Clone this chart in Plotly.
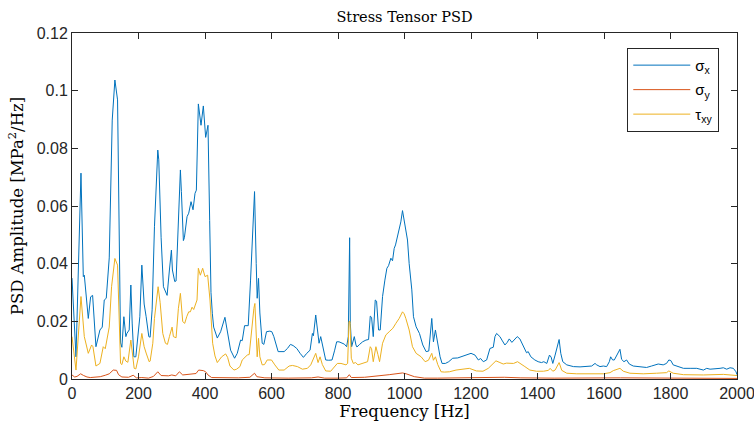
import plotly.graph_objects as go

# ---------------- data ----------------
sx_f = [0, 12, 27, 34, 37, 49, 56, 62, 72, 84, 91, 97, 103, 112, 121, 129, 137, 142, 146, 150,
        156, 162, 165, 172, 177, 181, 186, 192, 200, 204, 210, 217, 223, 231, 235, 241, 248, 253,
        258, 261, 268, 275, 281, 286, 293, 299, 302, 309, 313, 319, 326, 329, 335, 338, 346, 351,
        358, 364, 370, 374, 376, 380, 388, 395, 402, 409, 414, 418, 422, 426, 437, 447, 460, 467,
        477, 489, 497, 507, 512, 519, 530, 537, 544, 549, 554, 557, 561, 565, 572, 577, 585, 595,
        601, 607, 620, 638, 648, 657, 665, 676, 686, 696, 706, 716, 723, 726, 733, 738, 743, 748,
        756, 763, 772, 782, 790, 796, 803, 812, 819, 826, 831, 835, 837, 841, 849, 854, 857, 865,
        874, 884, 892, 897, 901, 906, 912, 916, 922, 927, 934, 941, 947, 952, 959, 964, 969, 973,
        979, 984, 989, 994, 1000, 1004, 1009, 1014, 1022, 1027, 1035, 1045, 1055, 1065, 1073, 1082,
        1087, 1093, 1100, 1107, 1113, 1123, 1133, 1145, 1160, 1175, 1190, 1200, 1212, 1222, 1229,
        1237, 1247, 1257, 1267, 1272, 1277, 1287, 1293, 1302, 1309, 1315, 1323, 1331, 1339, 1347,
        1355, 1362, 1367, 1372, 1380, 1392, 1402, 1412, 1419, 1428, 1436, 1441, 1446, 1453, 1460,
        1465, 1470, 1476, 1488, 1508, 1528, 1548, 1563, 1573, 1578, 1588, 1598, 1608, 1616, 1620,
        1626, 1631, 1636, 1643, 1648, 1653, 1660, 1668, 1676, 1688, 1708, 1728, 1743, 1753, 1763,
        1778, 1788, 1795, 1801, 1808, 1823, 1839, 1859, 1879, 1899, 1909, 1919, 1929, 1939, 1949,
        1959, 1969, 1979, 1989, 1997, 2000]
sx_v = [0.035, 0.0077, 0.0714, 0.0355, 0.036, 0.021, 0.0285, 0.029, 0.0112, 0.017, 0.018, 0.0274,
        0.028, 0.042, 0.0898, 0.1037, 0.0968, 0.049, 0.0125, 0.011, 0.0216, 0.0147, 0.0158, 0.017,
        0.0326, 0.0194, 0.0077, 0.0077, 0.018, 0.0216, 0.0395, 0.026, 0.0216, 0.0147, 0.0145, 0.024,
        0.0528, 0.069, 0.0794, 0.076, 0.049, 0.032, 0.0305, 0.029, 0.0378, 0.0447, 0.0378, 0.0338,
        0.034, 0.055, 0.0725, 0.065, 0.048, 0.049, 0.0563, 0.0575, 0.0615, 0.0587, 0.0644, 0.0655,
        0.075, 0.0954, 0.088, 0.0947, 0.0838, 0.088, 0.055, 0.030, 0.0228, 0.018, 0.0142, 0.0164,
        0.0214, 0.017, 0.010, 0.0072, 0.0089, 0.0135, 0.0133, 0.0185, 0.0185, 0.0343, 0.0506, 0.065,
        0.040, 0.028, 0.0349, 0.0229, 0.0124, 0.012, 0.0164, 0.0166, 0.0164, 0.0147, 0.0095, 0.0095,
        0.0106, 0.012, 0.0116, 0.0106, 0.0089, 0.0075, 0.0089, 0.010, 0.0158, 0.0150, 0.0222, 0.018,
        0.0124, 0.0147, 0.010, 0.0066, 0.0065, 0.0066, 0.010, 0.0129, 0.0129, 0.0125, 0.0121, 0.0112,
        0.0147, 0.049, 0.0193, 0.0112, 0.0147, 0.0118, 0.0111, 0.012, 0.0129, 0.0135, 0.0137, 0.0218,
        0.0214, 0.0147, 0.0274, 0.027, 0.017, 0.017, 0.0286, 0.0343, 0.0384, 0.0393, 0.0419, 0.041,
        0.0453, 0.0465, 0.0494, 0.0528, 0.0545, 0.0584, 0.0545, 0.0523, 0.0482, 0.040, 0.0309, 0.0216,
        0.0181, 0.0158, 0.0118, 0.0095, 0.0097, 0.021, 0.0129, 0.017, 0.012, 0.0077, 0.0054, 0.0054,
        0.006, 0.0072, 0.0073, 0.008, 0.0087, 0.0089, 0.0083, 0.0066, 0.0071, 0.006, 0.0066, 0.0106,
        0.011, 0.0147, 0.0158, 0.0147, 0.0135, 0.0118, 0.0127, 0.0139, 0.0127, 0.0139, 0.0147, 0.0139,
        0.0118, 0.010, 0.0091, 0.0095, 0.0077, 0.0066, 0.006, 0.0057, 0.006, 0.0054, 0.0083, 0.0076,
        0.0054, 0.0083, 0.012, 0.0137, 0.0089, 0.006, 0.0049, 0.0043, 0.0042, 0.0043, 0.0045, 0.0054,
        0.0049, 0.0043, 0.0045, 0.0043, 0.006, 0.0077, 0.0066, 0.0066, 0.0077, 0.0089, 0.0103, 0.0068,
        0.006, 0.0066, 0.0052, 0.0045, 0.0043, 0.004, 0.0045, 0.0049, 0.0052, 0.0049, 0.0054, 0.0066,
        0.0064, 0.0049, 0.0042, 0.0037, 0.0037, 0.0037, 0.0031, 0.0037, 0.0034, 0.0035, 0.0034, 0.0037,
        0.0039, 0.0034, 0.0039, 0.0037, 0.0025, 0.0015]

sy_f = [0, 8, 15, 26, 35, 45, 55, 70, 85, 100, 112, 124, 134, 140, 150, 170, 184, 194, 210, 230,
        245, 258, 268, 290, 300, 312, 323, 333, 350, 365, 373, 381, 395, 402, 409, 420, 460, 500,
        535, 549, 556, 580, 650, 720, 740, 760, 800, 826, 834, 840, 880, 924, 954, 994, 1005, 1030,
        1060, 1100, 1250, 1300, 1350, 1450, 1650, 1800, 2000]
sy_v = [0.0014, 0.0007, 0.0009, 0.0018, 0.0012, 0.0007, 0.0005, 0.0006, 0.0008, 0.0013, 0.0018,
        0.0031, 0.003, 0.0015, 0.0007, 0.0006, 0.0013, 0.0004, 0.0005, 0.0003, 0.0009, 0.0025, 0.0012,
        0.0011, 0.0014, 0.0011, 0.0025, 0.0014, 0.0016, 0.0018, 0.0019, 0.0031, 0.0029, 0.0025, 0.0014,
        0.0005, 0.0004, 0.0004, 0.0006, 0.002, 0.0008, 0.0004, 0.0003, 0.0004, 0.0007, 0.0003, 0.0003,
        0.0004, 0.0015, 0.0005, 0.0006, 0.001, 0.0015, 0.0021, 0.0018, 0.0008, 0.0003, 0.0003, 0.0005,
        0.0006, 0.0004, 0.0003, 0.0004, 0.0003, 0.0002]

txy_f = [0, 12, 27, 37, 49, 59, 63, 72, 84, 94, 100, 112, 119, 129, 137, 142, 146, 150, 156, 162,
         168, 177, 181, 187, 192, 200, 210, 217, 223, 232, 235, 243, 248, 255, 259, 265, 273, 281,
         287, 293, 301, 305, 313, 320, 326, 333, 339, 345, 351, 356, 361, 366, 371, 376, 380, 386,
         393, 400, 408, 415, 423, 430, 437, 450, 462, 468, 475, 487, 495, 505, 512, 527, 533, 540,
         547, 550, 554, 557, 561, 565, 572, 579, 587, 600, 610, 622, 638, 653, 663, 678, 693, 708,
         718, 725, 733, 740, 746, 753, 763, 778, 790, 798, 809, 824, 829, 833, 836, 840, 846, 853,
         860, 874, 889, 897, 901, 906, 914, 920, 925, 934, 944, 954, 965, 974, 984, 994, 999, 1004,
         1014, 1024, 1035, 1050, 1062, 1072, 1082, 1087, 1093, 1100, 1110, 1120, 1135, 1155, 1175,
         1195, 1216, 1236, 1252, 1262, 1275, 1287, 1297, 1307, 1318, 1328, 1340, 1352, 1362, 1377,
         1397, 1418, 1433, 1438, 1446, 1453, 1465, 1473, 1488, 1518, 1548, 1573, 1598, 1618, 1628,
         1648, 1658, 1678, 1718, 1758, 1788, 1795, 1808, 1839, 1899, 1959, 1997, 2000]
txy_v = [0.0147, 0.0031, 0.0286, 0.0147, 0.0089, 0.0118, 0.0112, 0.0045, 0.0054, 0.0112, 0.0105,
         0.018, 0.032, 0.0418, 0.0395, 0.021, 0.0054, 0.005, 0.0077, 0.0062, 0.0058, 0.0135, 0.010,
         0.0037, 0.0035, 0.0077, 0.0158, 0.0112, 0.009, 0.006, 0.0062, 0.0124, 0.021, 0.0286, 0.032,
         0.0266, 0.0158, 0.0124, 0.012, 0.0147, 0.018, 0.0147, 0.0143, 0.0245, 0.0297, 0.0199, 0.0193,
         0.0216, 0.0233, 0.0233, 0.0249, 0.0241, 0.0262, 0.0274, 0.0384, 0.036, 0.0384, 0.0355, 0.036,
         0.0274, 0.0124, 0.0080, 0.0057, 0.0077, 0.0087, 0.0075, 0.0045, 0.0031, 0.0034, 0.0043, 0.0066,
         0.0083, 0.0085, 0.017, 0.0245, 0.0262, 0.014, 0.0077, 0.0141, 0.0077, 0.0049, 0.005, 0.0066,
         0.0066, 0.0049, 0.0031, 0.0031, 0.0045, 0.0047, 0.0043, 0.0034, 0.0037, 0.0049, 0.0066, 0.0089,
         0.0057, 0.0077, 0.005, 0.0028, 0.0027, 0.0043, 0.0054, 0.0054, 0.0049, 0.0054, 0.0199, 0.020,
         0.0072, 0.0054, 0.0057, 0.0049, 0.0054, 0.006, 0.0112, 0.0105, 0.006, 0.0112, 0.0085, 0.006,
         0.0124, 0.0153, 0.0164, 0.0176, 0.0193, 0.021, 0.0233, 0.0226, 0.021, 0.017, 0.0112, 0.0089,
         0.0077, 0.006, 0.0065, 0.0089, 0.0065, 0.0077, 0.005, 0.0025, 0.0024, 0.0025, 0.0031, 0.0034,
         0.0037, 0.0028, 0.0027, 0.0037, 0.0047, 0.0063, 0.0057, 0.0052, 0.0055, 0.0055, 0.0054, 0.006,
         0.0052, 0.0043, 0.0031, 0.0027, 0.0027, 0.003, 0.0037, 0.0027, 0.0031, 0.0057, 0.003, 0.002,
         0.0018, 0.0018, 0.002, 0.0018, 0.0022, 0.0029, 0.0037, 0.0027, 0.002, 0.0018, 0.002, 0.0022,
         0.0028, 0.002, 0.0015, 0.0014, 0.0016, 0.0013, 0.0012]

series_names = ["σ<sub>x</sub>", "σ<sub>y</sub>", "τ<sub>xy</sub>"]
series_colors = ["#0072BD", "#D95319", "#EDB120"]

y_ticks = [0, 0.02, 0.04, 0.06, 0.08, 0.1, 0.12]
y_ticktext = ["0", "0.02", "0.04", "0.06", "0.08", "0.1", "0.12"]
x_ticks = list(range(0, 2001, 200))

# ---------------- figure ----------------
fig = go.Figure()
for i, (fx, fv) in enumerate([(sx_f, sx_v), (sy_f, sy_v), (txy_f, txy_v)]):
    fig.add_trace(go.Scatter(x=fx, y=fv, mode="lines", name=series_names[i],
                             legendgroup=str(i),
                             line=dict(color=series_colors[i], width=1)))

axis_col = "#262626"
tick_font = dict(family="Liberation Sans, Arial, sans-serif", size=16, color=axis_col)
serif = "DejaVu Serif, Liberation Serif, serif"

fig.update_layout(
    width=754, height=425,
    margin=dict(l=72, r=17, t=33, b=46, autoexpand=False),
    paper_bgcolor="white", plot_bgcolor="white",
    title=dict(text="Stress Tensor PSD", x=0.5365, xanchor="center", y=0.96, yanchor="middle",
               font=dict(family=serif, size=14.5, color="black")),
    xaxis=dict(range=[0, 2000], tickvals=x_ticks, ticks="inside", ticklen=6, tickcolor=axis_col,
               showline=True, linecolor=axis_col, linewidth=1, mirror="ticks",
               showgrid=False, zeroline=False, tickfont=tick_font, automargin=False,
               ticklabeloverflow="allow",
               title=dict(text="Frequency [Hz]", font=dict(family=serif, size=16.5, color="black"),
                          standoff=4)),
    yaxis=dict(range=[0, 0.12], tickvals=y_ticks, ticktext=y_ticktext, ticks="inside", ticklen=6,
               tickcolor=axis_col, showline=True, linecolor=axis_col, linewidth=1, mirror="ticks",
               showgrid=False, zeroline=False, tickfont=tick_font, automargin=False,
               ticklabeloverflow="allow",
               title=dict(text="PSD Amplitude [MPa<sup>2</sup>/Hz]",
                          font=dict(family=serif, size=16.5, color="black"), standoff=8)),
    legend=dict(x=0.835, y=0.957, xanchor="left", yanchor="top",
                bordercolor=axis_col, borderwidth=1, bgcolor="white",
                font=dict(family="Liberation Sans, Arial, sans-serif", size=15, color="black"),
                tracegroupgap=2, itemwidth=57),
    showlegend=True,
)

fig.write_html("out.html")
